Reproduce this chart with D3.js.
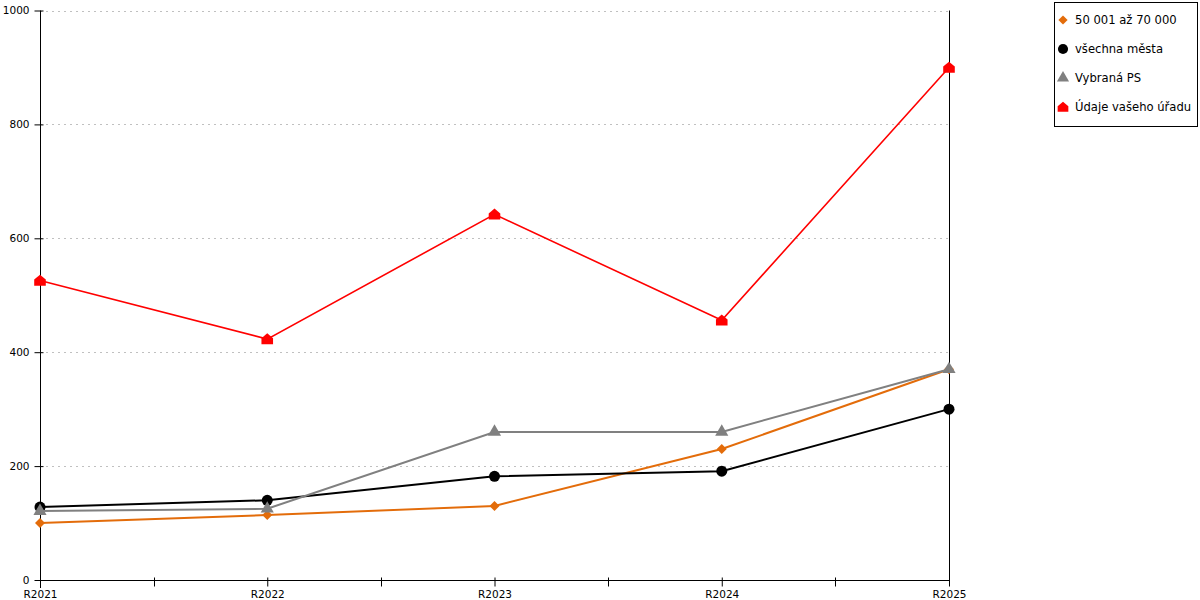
<!DOCTYPE html>
<html>
<head>
<meta charset="utf-8">
<script src="https://cdn.jsdelivr.net/npm/d3@7"></script>
<style>
  body { margin: 0; background: #fff; }
  text { font-family: "DejaVu Sans", Verdana, sans-serif; }
</style>
</head>
<body>
<div id="chart"></div>
<script>
// data
const years = ["R2021", "R2022", "R2023", "R2024", "R2025"];
const yTicks = [0, 200, 400, 600, 800, 1000];
const seriesNames = ["50 001 až 70 000", "všechna města", "Vybraná PS", "Údaje vašeho úřadu"];
const valsSize = [100, 114, 130, 230, 370];
const valsAll = [128, 140, 182, 191, 300];
const valsPS = [121, 125, 260, 260, 370];
const valsOffice = [526, 423, 642, 456, 900];

const W = 1200, H = 600;
const plot = {left: 40, right: 949, top: 10.5, bottom: 580};

const svg = d3.select("#chart")
  .append("svg")
    .attr("width", W)
    .attr("height", H);

const x = d3.scalePoint()
  .domain(years)
  .range([plot.left, plot.right]);

const y = d3.scaleLinear()
  .domain([0, 1000])
  .range([plot.bottom, plot.top]);

// house shaped marker for the office series
const house = {
  draw(ctx, size) {
    const w = Math.sqrt(size) * 0.58;
    ctx.moveTo(-w, w * 0.9);
    ctx.lineTo(w, w * 0.9);
    ctx.lineTo(w, -w * 0.15);
    ctx.lineTo(0, -w * 1.0);
    ctx.lineTo(-w, -w * 0.15);
    ctx.closePath();
  }
};

// square diamond (d3's own diamond is too tall)
const diamond = {
  draw(ctx, size) {
    const r = Math.sqrt(size) / 2;
    ctx.moveTo(0, -r);
    ctx.lineTo(r, 0);
    ctx.lineTo(0, r);
    ctx.lineTo(-r, 0);
    ctx.closePath();
  }
};

const series = [
  {name: seriesNames[0], values: valsSize, color: "#e36c0a", width: 2, symbol: diamond, size: 100},
  {name: seriesNames[1], values: valsAll, color: "#000000", width: 2, symbol: d3.symbolCircle, size: 95},
  {name: seriesNames[2], values: valsPS, color: "#808080", width: 2, symbol: d3.symbolTriangle, size: 75},
  {name: seriesNames[3], values: valsOffice, color: "#ff0000", width: 1.6, symbol: house, size: 100}
];

// grid lines
svg.append("g")
  .selectAll("line")
  .data(yTicks.filter(d => d > 0))
  .join("line")
    .attr("x1", plot.left)
    .attr("x2", plot.right)
    .attr("y1", d => Math.round(y(d)) + 0.5)
    .attr("y2", d => Math.round(y(d)) + 0.5)
    .attr("stroke", "#c0c0c0")
    .attr("stroke-dasharray", "2,4");

// Y axis
const yAxis = svg.append("g")
  .attr("transform", `translate(${plot.left + 0.5},0)`)
  .call(d3.axisLeft(y).tickValues(yTicks).tickFormat(d3.format("d")).tickSize(6).tickSizeOuter(0).tickPadding(5));
yAxis.select(".domain").attr("d", `M0,${plot.top}V${plot.bottom + 8}`).attr("stroke", "#000");
yAxis.selectAll(".tick line").attr("x2", -6).attr("x1", 3).attr("stroke", "#000");
yAxis.selectAll(".tick text")
  .attr("font-size", "10.5px")
  .attr("font-family", "DejaVu Sans, sans-serif")
  .attr("fill", "#000");

// X axis
const midTicks = years.slice(1).map((d, i) => (x(years[i]) + x(d)) / 2);
const xAxis = svg.append("g")
  .attr("transform", `translate(0,${plot.bottom + 0.5})`)
  .call(d3.axisBottom(x).tickSize(6).tickSizeOuter(0).tickPadding(4));
xAxis.select(".domain").attr("d", `M${plot.left},0H${plot.right}`).attr("stroke", "#000");
xAxis.selectAll(".tick line").attr("y1", -3).attr("y2", 6).attr("stroke", "#000");
xAxis.selectAll(".tick text")
  .attr("font-size", "10.5px")
  .attr("font-family", "DejaVu Sans, sans-serif")
  .attr("fill", "#000");
xAxis.append("g")
  .selectAll("line")
  .data(midTicks)
  .join("line")
    .attr("x1", d => Math.round(d) + 0.5)
    .attr("x2", d => Math.round(d) + 0.5)
    .attr("y1", -3)
    .attr("y2", 6)
    .attr("stroke", "#000");

// right border line
svg.append("line")
  .attr("x1", plot.right + 0.5)
  .attr("x2", plot.right + 0.5)
  .attr("y1", plot.top)
  .attr("y2", plot.bottom + 6)
  .attr("stroke", "#000");

// lines and markers
const line = d3.line()
  .x((d, i) => x(years[i]))
  .y(d => y(d));

series.forEach(s => {
  svg.append("path")
    .datum(s.values)
    .attr("fill", "none")
    .attr("stroke", s.color)
    .attr("stroke-width", s.width)
    .attr("d", line);

  svg.append("g")
    .selectAll("path")
    .data(s.values)
    .join("path")
      .attr("transform", (d, i) => `translate(${x(years[i])},${y(d)})`)
      .attr("d", d3.symbol().type(s.symbol).size(s.size))
      .attr("fill", s.color);
});

// legend
const legend = svg.append("g");
legend.append("rect")
  .attr("x", 1054.5)
  .attr("y", 2.5)
  .attr("width", 143)
  .attr("height", 124)
  .attr("fill", "#fff")
  .attr("stroke", "#000");

const legendItem = legend.selectAll(".item")
  .data(series)
  .join("g")
    .attr("class", "item")
    .attr("transform", (d, i) => `translate(1063,${20 + i * 29})`);

legendItem.append("path")
  .attr("d", d => d3.symbol().type(d.symbol).size(d.size * 0.85)())
  .attr("fill", d => d.color);

legendItem.append("text")
  .attr("x", 12)
  .attr("y", 4)
  .attr("font-size", "11.6px")
  .attr("fill", "#000")
  .text(d => d.name);
</script>
</body>
</html>
